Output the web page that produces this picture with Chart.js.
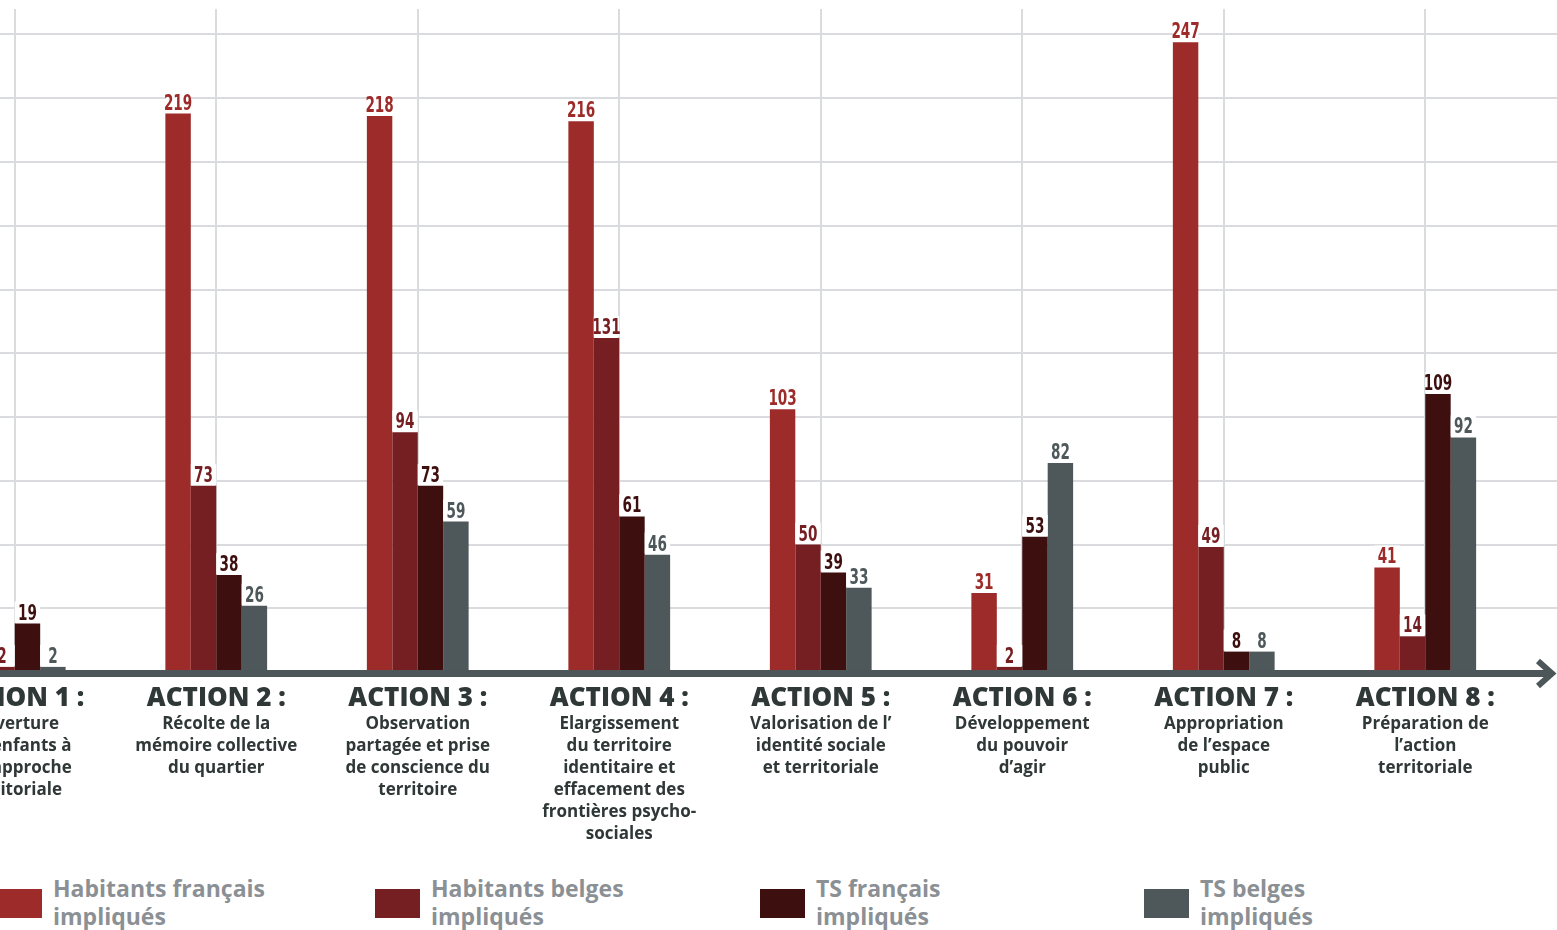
<!DOCTYPE html>
<html lang="fr">
<head>
<meta charset="utf-8">
<title>Actions - publics impliqués</title>
<script src="https://cdn.jsdelivr.net/npm/chart.js@4.4.1/dist/chart.umd.min.js"></script>
<style>
  html, body { margin: 0; padding: 0; background: #fff; overflow: hidden; }
  body { width: 1557px; height: 930px; position: relative; }
  #wrap { position: absolute; left: -86px; top: 0; width: 1643px; height: 860px; }
  #legend { position: absolute; left: 0; top: 874px; width: 1557px; height: 60px; }
  .item { position: absolute; top: 0; }
  .item .sw { position: absolute; left: 0; top: 15px; width: 45px; height: 29px; }
  .item .txt { position: absolute; left: 56px; top: 0; white-space: nowrap;
    font: bold 23px/28px "Open Sans", sans-serif; color: #8b9095; }
</style>
</head>
<body>
<div id="wrap"><canvas id="chart"></canvas></div>
<div id="legend"></div>
<script>
// Categories
const actions = ['ACTION 1 :', 'ACTION 2 :', 'ACTION 3 :', 'ACTION 4 :', 'ACTION 5 :', 'ACTION 6 :', 'ACTION 7 :', 'ACTION 8 :'];
const descriptions = [
  ['Ouverture', 'des enfants à', 'de l’approche', 'territoriale'],
  ['Récolte de la', 'mémoire collective', 'du quartier'],
  ['Observation', 'partagée et prise', 'de conscience du', 'territoire'],
  ['Elargissement', 'du territoire', 'identitaire et', 'effacement des', 'frontières psycho-', 'sociales'],
  ['Valorisation de l’', 'identité sociale', 'et territoriale'],
  ['Développement', 'du pouvoir', 'd’agir'],
  ['Appropriation', 'de l’espace', 'public'],
  ['Préparation de', 'l’action', 'territoriale']
];

// Series
const seriesNames = [['Habitants français', 'impliqués'], ['Habitants belges', 'impliqués'], ['TS français', 'impliqués'], ['TS belges', 'impliqués']];
const seriesColors = ['#9d2b29', '#761f23', '#3e0f0f', '#4e585a'];
const habitantsFr = [24, 219, 218, 216, 103, 31, 247, 41];
const habitantsBe = [2, 73, 94, 131, 50, 2, 49, 14];
const tsFr = [19, 38, 73, 61, 39, 53, 8, 109];
const tsBe = [2, 26, 59, 46, 33, 82, 8, 92];

// Value axis
const yMax = 260;
const yStep = 25;

const axisColor = '#4d5759';
const gridColor = '#dadbdf';
const textFont = '"Open Sans", Lato, sans-serif';

// horizontal grid across the whole canvas
const fullGrid = {
  id: 'fullGrid',
  beforeDatasetsDraw(chart) {
    const { ctx } = chart;
    const y = chart.scales.y;
    ctx.save();
    ctx.strokeStyle = gridColor;
    ctx.lineWidth = 2;
    for (let v = yStep; v < yMax; v += yStep) {
      const py = Math.round(y.getPixelForValue(v));
      ctx.beginPath();
      ctx.moveTo(0, py);
      ctx.lineTo(chart.width, py);
      ctx.stroke();
    }
    ctx.restore();
  }
};

// thick baseline with arrow head
const arrowAxis = {
  id: 'arrowAxis',
  afterDatasetsDraw(chart) {
    const { ctx } = chart;
    const y0 = chart.scales.y.getPixelForValue(0) + 1.5;
    const right = chart.width - 3;
    ctx.save();
    ctx.strokeStyle = axisColor;
    ctx.lineWidth = 7;
    ctx.beginPath();
    ctx.moveTo(0, y0);
    ctx.lineTo(right - 4, y0);
    ctx.stroke();
    ctx.lineWidth = 6;
    ctx.lineJoin = 'miter';
    ctx.beginPath();
    ctx.moveTo(right - 16, y0 - 12.5);
    ctx.lineTo(right - 2, y0);
    ctx.lineTo(right - 16, y0 + 12.5);
    ctx.stroke();
    ctx.restore();
  }
};

// value above each bar, on a white patch, in a narrow face
const valueLabels = {
  id: 'valueLabels',
  afterDatasetsDraw(chart) {
    const { ctx } = chart;
    ctx.save();
    ctx.font = 'bold 21px "DejaVu Sans Condensed", "DejaVu Sans", sans-serif';
    ctx.textAlign = 'center';
    ctx.textBaseline = 'alphabetic';
    chart.data.datasets.forEach((ds, i) => {
      chart.getDatasetMeta(i).data.forEach((bar, j) => {
        const v = ds.data[j];
        if (v == null) return;
        ctx.fillStyle = '#fff';
        ctx.fillRect(bar.x - bar.width / 2, bar.y - 22, bar.width, 21);
        ctx.fillStyle = ds.backgroundColor;
        ctx.save();
        ctx.translate(bar.x, bar.y - 4);
        ctx.scale(0.72, 1);
        ctx.fillText(String(v), 0, 0);
        ctx.restore();
      });
    });
    ctx.restore();
  }
};

const values = [habitantsFr, habitantsBe, tsFr, tsBe];

new Chart(document.getElementById('chart'), {
  type: 'bar',
  data: {
    labels: actions,
    datasets: values.map((d, i) => ({
      label: seriesNames[i].join(' '),
      data: d,
      backgroundColor: seriesColors[i],
      borderWidth: 0,
      categoryPercentage: 0.505,
      barPercentage: 1
    }))
  },
  options: {
    responsive: true,
    maintainAspectRatio: false,
    animation: false,
    layout: { padding: { top: 9, right: 31, bottom: 7, left: 0 } },
    plugins: {
      legend: { display: false },
      tooltip: { enabled: false }
    },
    scales: {
      y: {
        display: false,
        min: 0,
        max: yMax,
        ticks: { stepSize: yStep, includeBounds: false }
      },
      x: {
        position: 'bottom',
        offset: true,
        border: { display: false },
        grid: { offset: false, color: gridColor, lineWidth: 2, drawTicks: false },
        ticks: {
          autoSkip: false, maxRotation: 0, padding: 17,
          color: '#2f3737',
          font: { family: textFont, size: 26, weight: '800', lineHeight: 0.7 }
        },
        afterFit(scale) { scale.height = 41; }
      },
      x2: {
        type: 'category',
        position: 'bottom',
        labels: descriptions,
        offset: true,
        border: { display: false },
        grid: { display: false, drawTicks: false },
        ticks: {
          autoSkip: false, maxRotation: 0, padding: 0,
          color: '#2f3737',
          font: { family: textFont, size: 17, weight: 'bold', lineHeight: 22 / 17 }
        },
        afterFit(scale) { scale.height = 140; }
      }
    }
  },
  plugins: [fullGrid, arrowAxis, valueLabels]
});

// legend below the chart
const legend = document.getElementById('legend');
const legendLeft = [-3, 375, 760, 1144];
seriesNames.forEach((lines, i) => {
  const item = document.createElement('div');
  item.className = 'item';
  item.style.left = legendLeft[i] + 'px';
  const sw = document.createElement('div');
  sw.className = 'sw';
  sw.style.background = seriesColors[i];
  const txt = document.createElement('div');
  txt.className = 'txt';
  txt.innerHTML = lines.join('<br>');
  item.appendChild(sw);
  item.appendChild(txt);
  legend.appendChild(item);
});
</script>
</body>
</html>
